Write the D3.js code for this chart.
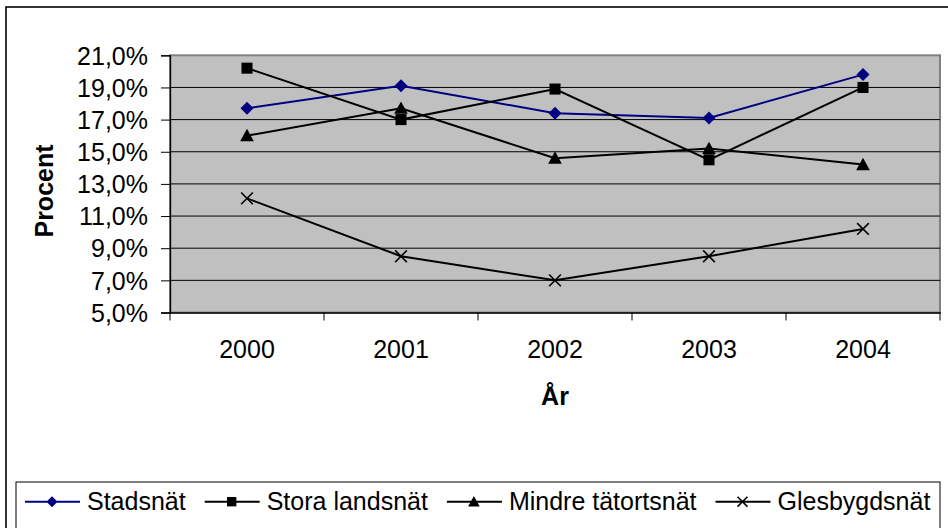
<!DOCTYPE html>
<html>
<head>
<meta charset="utf-8">
<script src="https://cdn.jsdelivr.net/npm/d3@7"></script>
<style>
  body { margin: 0; background: #fff; }
  svg text { font-family: "Liberation Sans", Arial, sans-serif; fill: #000; }
</style>
</head>
<body>
<div id="chart"></div>
<script>
var years = ["2000", "2001", "2002", "2003", "2004"];
var stadsnat = [17.7, 19.1, 17.4, 17.1, 19.8];
var storaLandsnat = [20.2, 17.0, 18.9, 14.5, 19.0];
var mindreTatortsnat = [16.0, 17.7, 14.6, 15.2, 14.2];
var glesbygdsnat = [12.1, 8.5, 7.0, 8.5, 10.2];
var yTicks = [5, 7, 9, 11, 13, 15, 17, 19, 21];

var seriesNames = ["Stadsnät", "Stora landsnät", "Mindre tätortsnät", "Glesbygdsnät"];
var seriesValues = [stadsnat, storaLandsnat, mindreTatortsnat, glesbygdsnat];
var seriesColors = ["#000080", "#000", "#000", "#000"];
var seriesMarkers = ["diamond", "square", "triangle", "cross"];

var svgWidth = 948;
var svgHeight = 528;

var plot = { left: 170, right: 940, top: 55.3, bottom: 312.5 };

var svg = d3.select("#chart")
  .append("svg")
  .attr("width", svgWidth)
  .attr("height", svgHeight);

// outer chart border (cut off at right and bottom)
svg.append("rect")
  .attr("x", 6).attr("y", 7)
  .attr("width", 960).attr("height", 540)
  .attr("fill", "#fff")
  .attr("stroke", "#000")
  .attr("stroke-width", 1.6);

var x = d3.scaleBand().domain(years).range([plot.left, plot.right]);
var y = d3.scaleLinear().domain([5, 21]).range([plot.bottom, plot.top]);

// plot area
svg.append("rect")
  .attr("x", plot.left).attr("y", plot.top)
  .attr("width", plot.right - plot.left)
  .attr("height", plot.bottom - plot.top)
  .attr("fill", "#c0c0c0")
  .attr("stroke", "#808080")
  .attr("stroke-width", 2);

// gridlines
svg.append("g")
  .selectAll("line")
  .data(yTicks.slice(1, -1))
  .enter()
  .append("line")
  .attr("x1", plot.left).attr("x2", plot.right)
  .attr("y1", d => y(d)).attr("y2", d => y(d))
  .attr("stroke", "#000")
  .attr("stroke-width", 1);

// y axis
var yAxis = svg.append("g")
  .attr("transform", `translate(${plot.left},0)`)
  .call(d3.axisLeft(y).tickValues(yTicks).tickSize(9).tickPadding(13)
    .tickFormat(d => d3.format(".1f")(d).replace(".", ",") + "%"));
yAxis.select(".domain").attr("stroke", "#000").attr("stroke-width", 1.3);
yAxis.selectAll(".tick line").attr("stroke", "#000");
yAxis.selectAll("text").style("font-size", "25px").attr("dy", "0.35em");

// x axis
var xAxis = svg.append("g")
  .attr("transform", `translate(0,${plot.bottom})`)
  .call(d3.axisBottom(x).tickSize(0).tickPadding(37));
xAxis.select(".domain").attr("stroke", "#000").attr("stroke-width", 1.3);
xAxis.selectAll("text").style("font-size", "25px").attr("dy", "0.35em");

// category separator ticks
var edges = years.map(d => x(d)).concat([plot.right]);
xAxis.selectAll(".sep")
  .data(edges)
  .enter()
  .append("line")
  .attr("x1", d => d).attr("x2", d => d)
  .attr("y1", 0).attr("y2", 8)
  .attr("stroke", "#000");

// axis titles
svg.append("text")
  .attr("x", (plot.left + plot.right) / 2)
  .attr("y", 405)
  .attr("text-anchor", "middle")
  .style("font-size", "25px")
  .style("font-weight", "bold")
  .text("År");

svg.append("text")
  .attr("transform", "translate(53,191) rotate(-90)")
  .attr("text-anchor", "middle")
  .style("font-size", "25px")
  .style("font-weight", "bold")
  .text("Procent");

function drawMarker(g, type, cx, cy, size, color) {
  var h = size / 2;
  if (type === "diamond") {
    g.append("path")
      .attr("d", `M${cx},${cy - h}L${cx + h},${cy}L${cx},${cy + h}L${cx - h},${cy}Z`)
      .attr("fill", color);
  } else if (type === "square") {
    g.append("rect")
      .attr("x", cx - h * 0.85).attr("y", cy - h * 0.85)
      .attr("width", size * 0.85).attr("height", size * 0.85)
      .attr("fill", color);
  } else if (type === "triangle") {
    g.append("path")
      .attr("d", `M${cx},${cy - h * 1.05}L${cx + h * 1.05},${cy + h * 0.85}L${cx - h * 1.05},${cy + h * 0.85}Z`)
      .attr("fill", color);
  } else {
    g.append("path")
      .attr("d", `M${cx - h * 0.9},${cy - h * 0.9}L${cx + h * 0.9},${cy + h * 0.9}M${cx - h * 0.9},${cy + h * 0.9}L${cx + h * 0.9},${cy - h * 0.9}`)
      .attr("stroke", color)
      .attr("stroke-width", 1.6)
      .attr("fill", "none");
  }
}

var line = d3.line()
  .x((d, i) => x(years[i]) + x.bandwidth() / 2)
  .y(d => y(d));

seriesValues.forEach(function(vals, s) {
  var g = svg.append("g");
  g.append("path")
    .datum(vals)
    .attr("d", line)
    .attr("fill", "none")
    .attr("stroke", seriesColors[s])
    .attr("stroke-width", 2);
  vals.forEach(function(v, i) {
    drawMarker(g, seriesMarkers[s], x(years[i]) + x.bandwidth() / 2, y(v), 13, seriesColors[s]);
  });
});

// legend
svg.append("rect")
  .attr("x", 16).attr("y", 482)
  .attr("width", 924).attr("height", 70)
  .attr("fill", "#fff")
  .attr("stroke", "#000")
  .attr("stroke-width", 1);

var legendY = 501.7;
var lx = 25;
seriesNames.forEach(function(name, s) {
  var g = svg.append("g");
  g.append("line")
    .attr("x1", lx).attr("x2", lx + 55)
    .attr("y1", legendY).attr("y2", legendY)
    .attr("stroke", seriesColors[s])
    .attr("stroke-width", 2);
  drawMarker(g, seriesMarkers[s], lx + 27, legendY, 11, seriesColors[s]);
  var t = g.append("text")
    .attr("x", lx + 62)
    .attr("y", legendY)
    .attr("dy", "0.35em")
    .style("font-size", "25px")
    .text(name);
  lx = lx + 62 + t.node().getComputedTextLength() + 19;
});
</script>
</body>
</html>
